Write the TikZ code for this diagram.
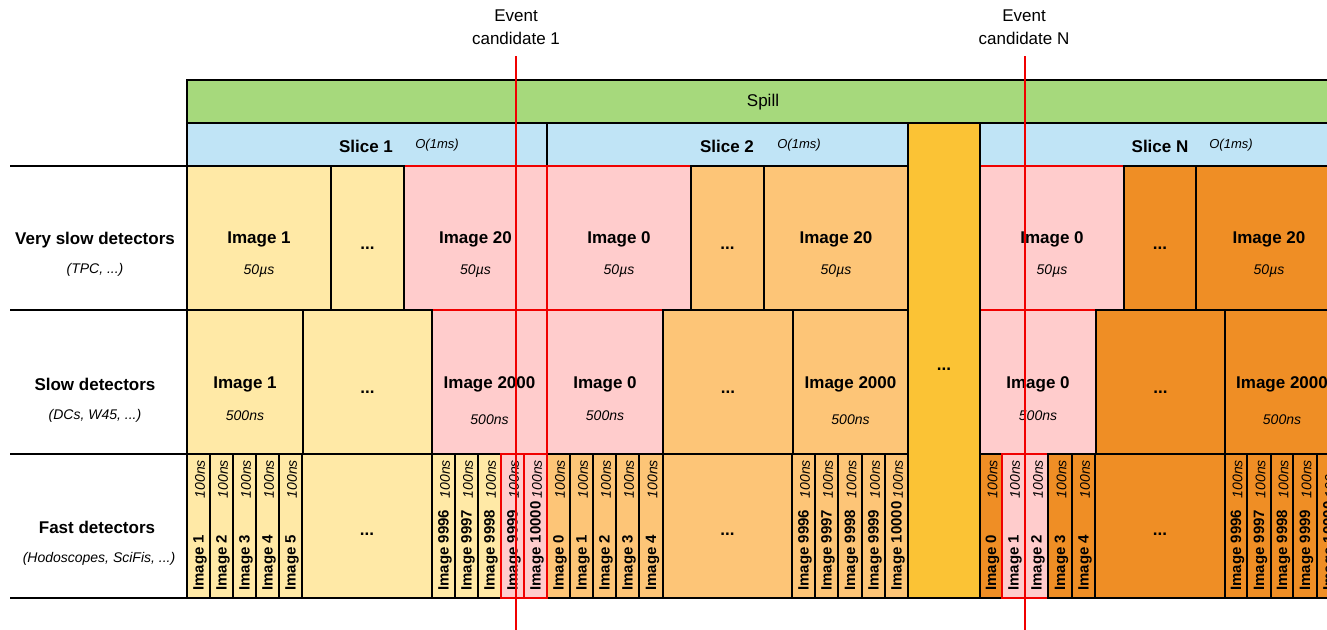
\documentclass[tikz,border=0pt]{standalone}
\usepackage{fontspec}
\setmainfont{Liberation Sans}
\usetikzlibrary{fit,calc}

\definecolor{spillgreen}{RGB}{166,217,124}
\definecolor{sliceblue}{RGB}{192,228,246}
\definecolor{yel}{RGB}{255,233,166}
\definecolor{hitpink}{RGB}{255,204,204}
\definecolor{lorange}{RGB}{253,197,119}
\definecolor{gold}{RGB}{251,195,53}
\definecolor{dorange}{RGB}{239,142,37}
\definecolor{evred}{RGB}{240,0,0}

\tikzset{
  cellbox/.style={draw=black, line width=1.2pt, inner sep=0pt, outer sep=0pt},
  cy/.style={cellbox, fill=yel},
  cl/.style={cellbox, fill=lorange},
  cd/.style={cellbox, fill=dorange},
  cp/.style={cellbox, draw=evred, fill=hitpink},
  title/.style={font=\fontsize{17}{20}\selectfont\bfseries, inner sep=0pt},
  sub/.style={font=\fontsize{14}{16}\selectfont\itshape, inner sep=0pt},
  dots/.style={font=\fontsize{17}{20}\selectfont\bfseries, inner sep=0pt, anchor=base},
  order/.style={font=\fontsize{13}{15}\selectfont\itshape, inner sep=0pt},
  fastlab/.style={font=\fontsize{15}{17}\selectfont\bfseries, inner sep=0pt, rotate=90},
  fastdur/.style={font=\fontsize{14}{16}\selectfont\itshape, inner sep=0pt, rotate=90},
  evlabel/.style={font=\fontsize{17}{23}\selectfont, align=center, inner sep=0pt},
  evline/.style={draw=evred, line width=2.8pt},
  rule/.style={draw=black, line width=1.2pt},
}

% box spanning x1..x2, y1..y2
\newcommand\cellat[6]{\node[#6, fit={(#2,#4) (#3,#5)}] (#1) {};}
% image title and duration inside a big cell
\newcommand\imgtext[5]{%
  \node[title] (#1-n) at (#1.center |- 0,#4) {#2};
  \node[sub] (#1-d) at (#1.center |- 0,#5) {#3};}
% ellipsis inside a cell
\newcommand\dotstext[2]{\node[dots] (#1-n) at (#1.center |- 0,#2) {...};}
% one fast-detector image column
\newcommand\fastcell[5]{%
  \node[#4, fit={(#2,454) (#3,598)}] (#1) {};
  \node[fastlab, anchor=west] (#1-n) at ($(#1.center |- 0,591)+(1.5,0)$) {Image #5};
  \node[fastdur, anchor=east] (#1-d) at ($(#1.center |- 0,460)+(1.5,0)$) {100ns};}
\newcommand\fastdots[4]{%
  \node[#4, fit={(#2,454) (#3,598)}] (#1) {};
  \dotstext{#1}{535}}

\begin{document}
\begin{tikzpicture}[x=1pt, y=-1pt]
\path[use as bounding box] (0,0) rectangle (1327,629);
\clip (0,0) rectangle (1327,629);

% spill and slices
\cellat{spill}{187}{1345}{80}{123}{cellbox, fill=spillgreen}
\node[font=\fontsize{17}{20}\selectfont, inner sep=0pt] (spill-n) at (763,102) {Spill};
\cellat{sl1}{187}{547}{123}{166}{cellbox, fill=sliceblue}
\cellat{sl2}{547}{908}{123}{166}{cellbox, fill=sliceblue}
\cellat{slN}{980}{1345}{123}{166}{cellbox, fill=sliceblue}
\node[title] (sl1-n) at (366,146) {Slice 1};
\node[order] (sl1-o) at (437,145) {O(1ms)};
\node[title] (sl2-n) at (727,146) {Slice 2};
\node[order] (sl2-o) at (799,145) {O(1ms)};
\node[title] (slN-n) at (1160,146) {Slice N};
\node[order] (slN-o) at (1231,145) {O(1ms)};

% images close to the event candidates
\cellat{vs1c}{404}{547}{166}{310}{cp}
\cellat{vs2a}{547}{691}{166}{310}{cp}
\cellat{vsNa}{980}{1124}{166}{310}{cp}
\cellat{s1c}{432}{547}{310}{454}{cp}
\cellat{s2a}{547}{663}{310}{454}{cp}
\cellat{sNa}{980}{1096}{310}{454}{cp}

% very slow detectors
\cellat{vs1a}{187}{331}{166}{310}{cy}
\cellat{vs1b}{331}{404}{166}{310}{cy}
\cellat{vs2b}{691}{764}{166}{310}{cl}
\cellat{vs2c}{764}{908}{166}{310}{cl}
\cellat{vsNb}{1124}{1196}{166}{310}{cd}
\cellat{vsNc}{1196}{1345}{166}{310}{cd}
% slow detectors
\cellat{s1a}{187}{303}{310}{454}{cy}
\cellat{s1b}{303}{432}{310}{454}{cy}
\cellat{s2b}{663}{793}{310}{454}{cl}
\cellat{s2c}{793}{908}{310}{454}{cl}
\cellat{sNb}{1096}{1225}{310}{454}{cd}
\cellat{sNc}{1225}{1345}{310}{454}{cd}

\imgtext{vs1a}{Image 1}{50µs}{239}{271}
\dotstext{vs1b}{249.5}
\imgtext{vs1c}{Image 20}{50µs}{239}{271}
\imgtext{vs2a}{Image 0}{50µs}{239}{271}
\dotstext{vs2b}{249.5}
\imgtext{vs2c}{Image 20}{50µs}{239}{271}
\imgtext{vsNa}{Image 0}{50µs}{239}{271}
\dotstext{vsNb}{249.5}
\node[title] (vsNc-n) at (1269,239) {Image 20};
\node[sub] (vsNc-d) at (1269,271) {50µs};

\imgtext{s1a}{Image 1}{500ns}{384}{416}
\dotstext{s1b}{393.5}
\imgtext{s1c}{Image 2000}{500ns}{384}{420}
\imgtext{s2a}{Image 0}{500ns}{384}{416}
\dotstext{s2b}{393.5}
\imgtext{s2c}{Image 2000}{500ns}{384}{420}
\imgtext{sNa}{Image 0}{500ns}{384}{416}
\dotstext{sNb}{393.5}
\node[title] (sNc-n) at (1282,384) {Image 2000};
\node[sub] (sNc-d) at (1282,420) {500ns};

% fast detectors, slice N
\foreach \n/\xa/\xb/\st/\lab in {fNa/980/1002/cd/0, fNb/1002/1025/cp/1, fNc/1025/1048/cp/2,
    fNd/1048/1072/cd/3, fNe/1072/1095/cd/4}
  {\fastcell{\n}{\xa}{\xb}{\st}{\lab}}
\fastdots{fNdots}{1095}{1225}{cd}
\foreach \n/\xa/\xb/\lab in {fNf/1225/1247/9996, fNg/1247/1271/9997, fNh/1271/1293/9998,
    fNi/1293/1317/9999, fNj/1317/1340/10000}
  {\fastcell{\n}{\xa}{\xb}{cd}{\lab}}

% fast detectors, slice 2
\foreach \n/\xa/\xb/\lab in {f2a/547/570/0, f2b/570/593/1, f2c/593/616/2, f2d/616/639/3, f2e/639/663/4}
  {\fastcell{\n}{\xa}{\xb}{cl}{\lab}}
\fastdots{f2dots}{663}{792}{cl}
\foreach \n/\xa/\xb/\lab in {f2f/792/815/9996, f2g/815/838/9997, f2h/838/862/9998,
    f2i/862/885/9999, f2j/885/908/10000}
  {\fastcell{\n}{\xa}{\xb}{cl}{\lab}}

% fast detectors, slice 1
\foreach \n/\xa/\xb/\lab in {f1a/187/210/1, f1b/210/233/2, f1c/233/256/3, f1d/256/279/4, f1e/279/302/5}
  {\fastcell{\n}{\xa}{\xb}{cy}{\lab}}
\fastdots{f1dots}{302}{432}{cy}
\foreach \n/\xa/\xb/\st/\lab in {f1f/432/455/cy/9996, f1g/455/478/cy/9997, f1h/478/501/cy/9998,
    f1i/501/524/cp/9999, f1j/524/547/cp/10000}
  {\fastcell{\n}{\xa}{\xb}{\st}{\lab}}

% slices in between
\cellat{gold}{908}{980}{123}{598}{cellbox, fill=gold}
\dotstext{gold}{370}

% detector rows
\coordinate (r0) at (10,166);
\coordinate (r1) at (10,310);
\coordinate (r2) at (10,454);
\coordinate (r3) at (10,598);
\draw[rule] (r0) -- (vs1a.north west);
\draw[rule] (r1) -- (s1a.north west);
\draw[rule] (r2) -- (f1a.north west);
\draw[rule] (r3) -- (f1a.south west);
\node[title] (rowvs) at (95,240) {Very slow detectors};
\node[sub] (rowvs-d) at (95,270) {(TPC, ...)};
\node[title] (rows) at (95,384) {Slow detectors};
\node[sub] (rows-d) at (95,416) {(DCs, W45, ...)};
\node[title] (rowf) at (97,527) {Fast detectors};
\node[sub] (rowf-d) at (99,559) {(Hodoscopes, SciFis, ...)};

% event candidates
\node[evlabel] (ev1) at (516,27) {Event\\candidate 1};
\node[evlabel] (evN) at (1024,27) {Event\\candidate N};
\coordinate (ev1top) at (516,56);
\coordinate (ev1bot) at (516,640);
\coordinate (evNtop) at (1025,56);
\coordinate (evNbot) at (1025,640);
\draw[evline] (ev1top) -- (ev1bot);
\draw[evline] (evNtop) -- (evNbot);
\end{tikzpicture}
\end{document}
